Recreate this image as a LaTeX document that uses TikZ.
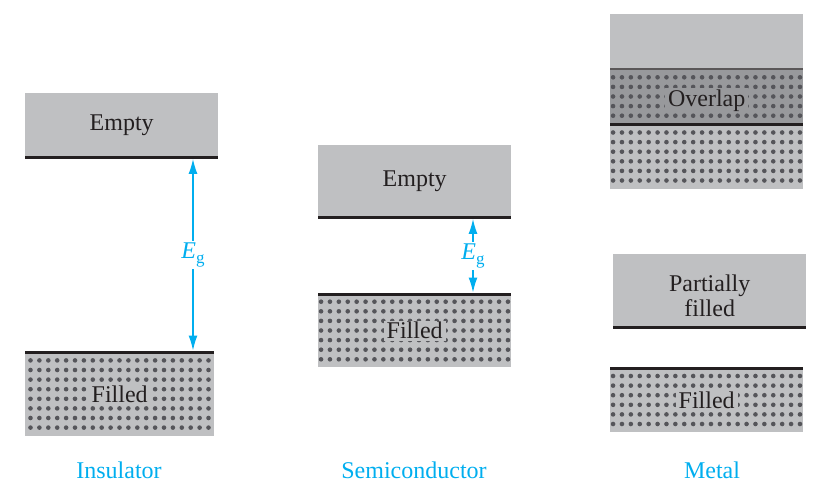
\documentclass[tikz,border=0pt]{standalone}
\usepackage{fontspec}
\setmainfont{Liberation Serif}
\usetikzlibrary{arrows.meta}
\definecolor{bandgray}{HTML}{BFC0C2}
\definecolor{overlapgray}{HTML}{98999C}
\definecolor{dotgray}{HTML}{55555A}
\definecolor{ink}{HTML}{231F20}
\definecolor{gapcyan}{HTML}{00AEEF}
\tikzset{
  band/.style={fill=bandgray, inner sep=0pt, anchor=north west, text=ink},
  bandtext/.style={fill=bandgray, inner xsep=3pt, inner ysep=1.5pt, text=ink},
  edge/.style={ink, line width=3pt},
  thinedge/.style={ink!75, line width=2pt},
  gaparrow/.style={gapcyan, line width=1.4pt, shorten <=1.5pt, shorten >=1.5pt,
    {Latex[length=15pt,width=9pt]}-{Latex[length=15pt,width=9pt]}},
  gaplabel/.style={fill=white, text=gapcyan, inner sep=2pt},
  kind/.style={text=gapcyan}
}
% energy gap symbol
\newcommand{\Eg}{\textit{E}\raisebox{-5pt}{\fontsize{17}{17}\selectfont g}}
% grid of dots for a filled band: x1 y1 x2 y2
\newcommand{\dotband}[4]{%
  \pgfmathsetmacro{\bw}{#3-#1}%
  \pgfmathsetmacro{\bh}{#4-#2}%
  \pgfmathtruncatemacro{\ncol}{(\bw-6)/8.9}%
  \pgfmathtruncatemacro{\nrow}{(\bh-8)/9.6}%
  \pgfmathsetmacro{\ox}{#1+(\bw-\ncol*8.9)/2}%
  \pgfmathsetmacro{\oy}{#2+(\bh-\nrow*9.6)/2}%
  \foreach \i in {0,...,\ncol} {
    \foreach \j in {0,...,\nrow} {
      \fill[dotgray] (\ox+\i*8.9,\oy+\j*9.6) circle (2.3pt);
    }
  }
}
\begin{document}
\begin{tikzpicture}[x=1pt,y=-1pt,font=\fontsize{24}{25}\selectfont]
  \useasboundingbox (0,0) rectangle (827,493);

  % insulator
  \node[band, minimum width=193pt, minimum height=64pt] (insCB) at (25,93) {Empty};
  \draw[edge] (insCB.south west) -- (insCB.south east);
  \node[band, minimum width=189pt, minimum height=84pt] (insVB) at (25,352) {};
  \dotband{25}{352}{214}{436}
  \node[bandtext] (insVBtext) at (insVB.center) {Filled};
  \draw[edge] (insVB.north west) -- (insVB.north east);
  \coordinate (insGap) at (193,0);
  \draw[gaparrow] (insGap |- insCB.south) -- node[gaplabel] (insEg) {\Eg} (insGap |- insVB.north);
  \node[kind] (insName) at (119,470) {Insulator};

  % semiconductor
  \node[band, minimum width=193pt, minimum height=72pt] (semCB) at (318,145) {Empty};
  \draw[edge] (semCB.south west) -- (semCB.south east);
  \node[band, minimum width=193pt, minimum height=73pt] (semVB) at (318,294) {};
  \dotband{318}{294}{511}{367}
  \node[bandtext] (semVBtext) at (semVB.center) {Filled};
  \draw[edge] (semVB.north west) -- (semVB.north east);
  \coordinate (semGap) at (473,0);
  \draw[gaparrow] (semGap |- semCB.south) -- node[gaplabel] (semEg) {\Eg} (semGap |- semVB.north);
  \node[kind] (semName) at (414,470) {Semiconductor};

  % metal, overlapping bands
  \node[band, minimum width=193pt, minimum height=55pt] (metTop) at (610,14) {};
  \node[band, minimum width=193pt, minimum height=55pt, fill=overlapgray] (metOverlap) at (610,69) {};
  \node[band, minimum width=193pt, minimum height=65pt] (metLower) at (610,124) {};
  \dotband{610}{69}{803}{124}
  \dotband{610}{124}{803}{189}
  \node[bandtext, fill=overlapgray, yshift=-4pt] (metOverlapText) at (metOverlap.center) {Overlap};
  \draw[thinedge] (metOverlap.north west) -- (metOverlap.north east);
  \draw[edge] (metLower.north west) -- (metLower.north east);

  % metal, partially filled band
  \node[band, minimum width=193pt, minimum height=73pt] (metCB) at (613,254) {};
  \node[text=ink, align=center, yshift=-5pt] (metCBtext) at (metCB.center) {Partially\\filled};
  \draw[edge] (metCB.south west) -- (metCB.south east);
  \node[band, minimum width=193pt, minimum height=64pt] (metVB) at (610,368) {};
  \dotband{610}{368}{803}{432}
  \node[bandtext] (metVBtext) at (metVB.center) {Filled};
  \draw[edge] (metVB.north west) -- (metVB.north east);
  \node[kind] (metName) at (712,470) {Metal};
\end{tikzpicture}
\end{document}
